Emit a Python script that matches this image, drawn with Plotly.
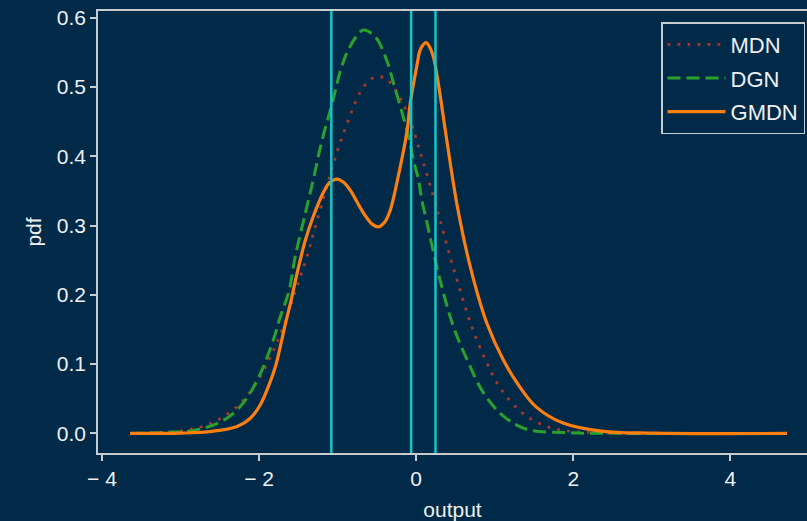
import plotly.graph_objects as go

# ---- data ----
mdn_x = [-3.64, -3.2, -2.96, -2.68, -2.45, -2.24, -2.07, -1.93, -1.815, -1.667, -1.497, -1.37,
         -1.31, -1.19, -1.08, -0.96, -0.82, -0.71, -0.63, -0.53, -0.40, -0.30, -0.17, -0.064,
         0.017, 0.093, 0.207, 0.314, 0.42, 0.534, 0.696, 0.899, 1.09, 1.357, 1.586, 1.84, 2.3,
         3.0, 4.72]
mdn_y = [0.0, 0.0015, 0.0043, 0.0115, 0.0245, 0.043, 0.067, 0.093, 0.12, 0.161, 0.219, 0.262,
         0.288, 0.335, 0.379, 0.422, 0.465, 0.493, 0.505, 0.514, 0.513, 0.502, 0.477, 0.448,
         0.419, 0.39, 0.347, 0.304, 0.26, 0.216, 0.158, 0.102, 0.062, 0.029, 0.0135, 0.005, 0.001,
         0.0001, 0.0]

dgn_x = [-3.64, -3.2, -2.81, -2.50, -2.28, -2.11, -1.985, -1.89, -1.80, -1.73, -1.62, -1.54,
         -1.41, -1.31, -1.20, -1.07, -0.96, -0.87, -0.76, -0.67, -0.52, -0.38, -0.28, -0.16,
         -0.089, -0.034, 0.03, 0.072, 0.136, 0.19, 0.305, 0.475, 0.65, 0.855, 1.11, 1.41, 1.96,
         2.5, 4.72]
dgn_y = [0.0, 0.0015, 0.005, 0.016, 0.034, 0.059, 0.086, 0.112, 0.141, 0.168, 0.205, 0.255,
         0.318, 0.366, 0.422, 0.476, 0.525, 0.552, 0.573, 0.582, 0.572, 0.54, 0.502, 0.455,
         0.425, 0.394, 0.366, 0.337, 0.305, 0.277, 0.221, 0.154, 0.106, 0.059, 0.025, 0.006, 0.001,
         0.0002, 0.0]

gmdn_x = [-3.64, -3.0, -2.6, -2.28, -2.11, -1.985, -1.88, -1.79, -1.73, -1.667, -1.60, -1.54,
          -1.476, -1.41, -1.31, -1.18, -1.10, -1.01, -0.92, -0.84, -0.67, -0.56, -0.48, -0.40,
          -0.33, -0.23, -0.115, -0.076, 0.008, 0.05, 0.09, 0.127, 0.17, 0.22, 0.26, 0.305, 0.39,
          0.52, 0.69, 0.90, 1.11, 1.32, 1.53, 1.87, 2.38, 3.0, 4.72]
gmdn_y = [0.0, 0.0005, 0.003, 0.010, 0.022, 0.041, 0.068, 0.097, 0.125, 0.157, 0.188, 0.219,
          0.25, 0.279, 0.313, 0.348, 0.362, 0.367, 0.362, 0.351, 0.318, 0.302, 0.298, 0.305,
          0.322, 0.37, 0.437, 0.476, 0.53, 0.553, 0.561, 0.564, 0.558, 0.543, 0.52, 0.488, 0.423,
          0.33, 0.24, 0.159, 0.106, 0.067, 0.038, 0.015, 0.003, 0.0005, 0.0]

vline_x = [-1.08, -0.064, 0.246]

series_names = ["MDN", "DGN", "GMDN"]
x_tick_vals = [-4, -2, 0, 2, 4]
x_tick_text = ["\u2212 4", "\u2212 2", "0", "2", "4"]
y_tick_vals = [0.0, 0.1, 0.2, 0.3, 0.4, 0.5, 0.6]
y_tick_text = ["0.0", "0.1", "0.2", "0.3", "0.4", "0.5", "0.6"]

# ---- styling ----
BG = "#012a48"
AXIS = "#c5cdd3"
TXT = "#eef0f2"
C_MDN = "#a8392c"
C_DGN = "#2ca02c"
C_GMDN = "#ff7f0e"
C_VLINE = "#17c4c8"
FONT = "Liberation Sans, Arial, sans-serif"

fig = go.Figure()
fig.add_trace(go.Scatter(x=mdn_x, y=mdn_y, mode="lines", name=series_names[0], legendgroup="g1",
                         line=dict(color=C_MDN, width=2.8, dash="2.8px,7.2px", shape="spline", smoothing=1.0)))
fig.add_trace(go.Scatter(x=dgn_x, y=dgn_y, mode="lines", name=series_names[1], legendgroup="g2",
                         line=dict(color=C_DGN, width=3, dash="13px,6px", shape="spline", smoothing=1.0)))
fig.add_trace(go.Scatter(x=gmdn_x, y=gmdn_y, mode="lines", name=series_names[2], legendgroup="g3",
                         line=dict(color=C_GMDN, width=3.2, shape="spline", smoothing=1.0)))

for vx in vline_x:
    fig.add_shape(type="line", xref="x", yref="paper", x0=vx, x1=vx, y0=0, y1=1,
                  line=dict(color=C_VLINE, width=2.5), layer="above")

fig.update_layout(
    width=807, height=521,
    margin=dict(l=98, r=0, t=11, b=68, autoexpand=False),
    paper_bgcolor=BG, plot_bgcolor=BG,
    font=dict(family=FONT, size=21, color=TXT),
    showlegend=True,
    legend=dict(x=0.9972, y=0.975, xanchor="right", yanchor="top",
                bgcolor=BG, bordercolor=AXIS, borderwidth=1.5,
                font=dict(family=FONT, size=22, color=TXT),
                tracegroupgap=2, itemwidth=58),
    xaxis=dict(range=[-4.05, 4.975], tickvals=x_tick_vals, ticktext=x_tick_text,
               showgrid=False, zeroline=False, showline=True, linecolor=AXIS, linewidth=1.6,
               mirror=True, ticks="outside", ticklen=6, tickwidth=1.6, tickcolor=AXIS,
               ticklabelstandoff=0, ticklabeloverflow="allow",
               title=dict(text="output", standoff=15, font=dict(size=21, color=TXT))),
    yaxis=dict(range=[-0.0282, 0.6095], tickvals=y_tick_vals, ticktext=y_tick_text,
               showgrid=False, zeroline=False, showline=True, linecolor=AXIS, linewidth=1.6,
               mirror=False, ticks="outside", ticklen=6, tickwidth=1.6, tickcolor=AXIS,
               ticklabelstandoff=0, ticklabeloverflow="allow",
               title=dict(text="pdf", standoff=9, font=dict(size=21, color=TXT))),
)

# remove the default page margin so the figure sits at the window's top-left corner
fig.write_html("out.html",
               config={"displayModeBar": False},
               post_script="document.body.style.margin='0';document.body.style.background='%s';" % BG)
